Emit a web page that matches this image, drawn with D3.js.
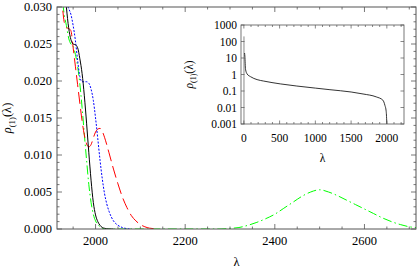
<!DOCTYPE html>
<html>
<head>
<meta charset="utf-8">
<script src="https://cdn.jsdelivr.net/npm/d3@7"></script>
<style>
  body { margin: 0; background: #fff; }
  svg text { font-family: "Liberation Serif", "DejaVu Serif", serif; fill: #000; }
</style>
</head>
<body>
<svg id="chart" width="417" height="270" font-family="Liberation Serif, DejaVu Serif, serif"></svg>
<script>

// main panel data
var blackLambda = [1933, 1935, 1940, 1945, 1950, 1955, 1960, 1965, 1970, 1975, 1980, 1985, 1990, 1995, 2000, 2005, 2010, 2015, 2020, 2025, 2030, 2040];
var blackRho    = [0.0315, 0.0300, 0.0272, 0.0256, 0.0250, 0.0249, 0.0245, 0.0230, 0.0210, 0.0180, 0.0143, 0.0103, 0.0066, 0.0036, 0.0019, 0.0010, 0.0005, 0.0002, 0.0001, 0.00003, 0, 0];

var redLambda = [1927, 1930, 1935, 1940, 1945, 1950, 1955, 1960, 1965, 1970, 1975, 1980, 1985, 1990, 1995, 2000, 2005, 2010, 2015, 2020, 2030, 2040, 2050, 2060, 2070, 2080, 2090, 2100, 2110, 2120, 2130, 2140];
var redRho    = [0.0295, 0.0280, 0.0272, 0.0271, 0.0268, 0.0245, 0.0220, 0.0195, 0.0170, 0.0146, 0.0127, 0.0115, 0.0111, 0.0114, 0.0123, 0.0131, 0.0135, 0.0136, 0.0132, 0.0124, 0.0103, 0.0081, 0.0061, 0.0043, 0.0029, 0.0018, 0.0011, 0.0006, 0.0003, 0.00012, 0.00004, 0];

var blueLambda = [1935, 1940, 1945, 1950, 1955, 1960, 1965, 1970, 1975, 1980, 1985, 1990, 1995, 2000, 2005, 2010, 2015, 2020, 2025, 2030, 2040, 2050, 2060, 2070, 2080];
var blueRho    = [0.0305, 0.0298, 0.0290, 0.0275, 0.0255, 0.0228, 0.0206, 0.0199, 0.0199, 0.0199, 0.0197, 0.0189, 0.0174, 0.0150, 0.0122, 0.0093, 0.0068, 0.0048, 0.0034, 0.0024, 0.0011, 0.0005, 0.0002, 0.00005, 0];

var greenLambda = [1927, 1930, 1935, 1940, 1945, 1950, 1955, 1960, 1965, 1970, 1975, 1980, 1985, 1990, 1995, 2000, 2005, 2010, 2015, 2025, 2100, 2200, 2280,
                   2300, 2320, 2340, 2360, 2380, 2400, 2420, 2440, 2460, 2480, 2500, 2520, 2540, 2560, 2580, 2600, 2620, 2640, 2660, 2680, 2700, 2715];
var greenRho    = [0.0305, 0.0290, 0.0275, 0.0258, 0.0250, 0.0247, 0.0236, 0.0220, 0.0196, 0.0164, 0.0128, 0.0093, 0.0060, 0.0036, 0.0020, 0.0011, 0.0006, 0.0003, 0.0001, 0, 0, 0, 0,
                   0.00008, 0.0002, 0.0005, 0.0009, 0.0014, 0.0020, 0.0028, 0.0036, 0.0044, 0.0050, 0.0053, 0.0050, 0.0045, 0.0039, 0.0033, 0.0027, 0.0021, 0.0015, 0.0010, 0.0006, 0.0003, 0.0002];

var mainXTicks = [2000, 2200, 2400, 2600];
var mainYTicks = [0, 0.005, 0.010, 0.015, 0.020, 0.025, 0.030];

// inset data (log scale)
var spikeLambda = [0, 0, 3, 3];
var spikeRho    = [0.001, 200, 200, 0.001];
var insetLambda = [10, 14, 23, 46, 93, 185, 278, 509, 741, 1000, 1204, 1500, 1667, 1852, 1944, 1972, 1991, 2000];
var insetRho    = [20, 13, 2.1, 1.07, 0.74, 0.49, 0.40, 0.27, 0.20, 0.15, 0.12, 0.087, 0.066, 0.044, 0.028, 0.014, 0.0057, 0.001];

var insetXTicks = [0, 500, 1000, 1500, 2000];
var insetYTicks = [1000, 100, 10, 1, 0.1, 0.01, 0.001];
var insetYLabels = ["1000", "100", "10", "1", "0.1", "0.01", "0.001"];

/************************************************************************************************************/

var svg = d3.select("#chart");
var frameColor = "#555";

function rhoLabel(sel, size){
  sel.append("tspan").style("font-style", "italic").text("ρ");
  sel.append("tspan").attr("font-size", size * 0.7).attr("dy", size * 0.3).text("(1)");
  sel.append("tspan").attr("dy", -size * 0.3).text("(λ)");
}

function drawTicks(g, scale, values, len, side, w, h){
  values.forEach(function(v){
    var p = scale(v);
    if(side === "bottom") g.append("line").attr("x1", p).attr("x2", p).attr("y1", h).attr("y2", h - len);
    if(side === "top") g.append("line").attr("x1", p).attr("x2", p).attr("y1", 0).attr("y2", len);
    if(side === "left") g.append("line").attr("y1", p).attr("y2", p).attr("x1", 0).attr("x2", len);
    if(side === "right") g.append("line").attr("y1", p).attr("y2", p).attr("x1", w).attr("x2", w - len);
  });
}

/************************************************************************************************************/
// main panel

svg.margin = {left: 57, top: 7, right: 1, bottom: 41};
svg.width = 417 - svg.margin.left - svg.margin.right;
svg.height = 270 - svg.margin.top - svg.margin.bottom;

svg.x = d3.scaleLinear().domain([1914, 2715]).range([0, svg.width]);
svg.y = d3.scaleLinear().domain([0, 0.03]).range([svg.height, 0]);

var main = svg.append("g").attr("transform", "translate(" + [svg.margin.left, svg.margin.top] + ")");

main.append("clipPath").attr("id", "clipMain")
  .append("rect").attr("width", svg.width).attr("height", svg.height);

var chart = main.append("g").attr("clip-path", "url(#clipMain)");

function mainLine(xs, ys){
  return d3.line().curve(d3.curveMonotoneX)
    .x(function(d, i){ return svg.x(xs[i]); })
    .y(function(d){ return svg.y(d); })(ys);
}

chart.append("path").attr("d", mainLine(greenLambda, greenRho))
  .attr("fill", "none").attr("stroke", "#00ff00").attr("stroke-width", 1).attr("stroke-dasharray", "9,3,1.5,3");
chart.append("path").attr("d", mainLine(redLambda, redRho))
  .attr("fill", "none").attr("stroke", "#ff0000").attr("stroke-width", 1).attr("stroke-dasharray", "12,5");
chart.append("path").attr("d", mainLine(blueLambda, blueRho))
  .attr("fill", "none").attr("stroke", "#0000ff").attr("stroke-width", 1).attr("stroke-dasharray", "2,1.5");
chart.append("path").attr("d", mainLine(blackLambda, blackRho))
  .attr("fill", "none").attr("stroke", "#000").attr("stroke-width", 1);

var ticks = main.append("g").attr("stroke", frameColor).attr("stroke-width", 0.8);
var xMinor = d3.range(1950, 2715, 50).filter(function(v){ return v % 200 !== 0; });
var yMinor = d3.range(1, 30).map(function(v){ return v / 1000; }).filter(function(v, i){ return (i + 1) % 5 !== 0; });
["bottom", "top"].forEach(function(s){
  drawTicks(ticks, svg.x, mainXTicks, 5, s, svg.width, svg.height);
  drawTicks(ticks, svg.x, xMinor, 2.5, s, svg.width, svg.height);
});
["left", "right"].forEach(function(s){
  drawTicks(ticks, svg.y, mainYTicks, 5, s, svg.width, svg.height);
  drawTicks(ticks, svg.y, yMinor, 2.5, s, svg.width, svg.height);
});

main.append("rect").attr("width", svg.width).attr("height", svg.height)
  .attr("fill", "none").attr("stroke", frameColor).attr("stroke-width", 1);

main.selectAll(".xlab").data(mainXTicks).enter().append("text")
  .attr("x", function(d){ return svg.x(d); }).attr("y", svg.height + 16)
  .attr("text-anchor", "middle").attr("font-size", 12.5).text(function(d){ return d; });

main.selectAll(".ylab").data(mainYTicks).enter().append("text")
  .attr("x", -5).attr("y", function(d){ return svg.y(d); }).attr("dy", "0.35em")
  .attr("text-anchor", "end").attr("font-size", 12.5).text(d3.format(".3f"));

main.append("text").attr("x", svg.width / 2).attr("y", svg.height + 37)
  .attr("text-anchor", "middle").attr("font-size", 12.5).text("λ");

rhoLabel(main.append("text").attr("font-size", 12.5).attr("text-anchor", "middle")
  .attr("transform", "translate(-46," + (svg.height / 2) + ") rotate(-90)"), 12.5);

/************************************************************************************************************/
// inset

var inset = {left: 241, top: 25, width: 163, height: 99};
inset.x = d3.scaleLinear().domain([-40, 2240]).range([0, inset.width]);
inset.y = d3.scaleLog().domain([0.001, 1000]).range([inset.height, 0]);

var ins = svg.append("g").attr("transform", "translate(" + [inset.left, inset.top] + ")");
ins.append("rect").attr("width", inset.width).attr("height", inset.height).attr("fill", "#fff");

ins.append("clipPath").attr("id", "clipInset")
  .append("rect").attr("width", inset.width).attr("height", inset.height);
var insChart = ins.append("g").attr("clip-path", "url(#clipInset)");

function insetLine(xs, ys){
  return d3.line()
    .x(function(d, i){ return inset.x(xs[i]); })
    .y(function(d){ return inset.y(d); })(ys);
}

insChart.append("path").attr("d", insetLine(spikeLambda, spikeRho))
  .attr("fill", "none").attr("stroke", "#999").attr("stroke-width", 0.7);
insChart.append("path").attr("d", d3.line().curve(d3.curveMonotoneX)
    .x(function(d, i){ return inset.x(insetLambda[i]); })
    .y(function(d){ return inset.y(d); })(insetRho))
  .attr("fill", "none").attr("stroke", "#000").attr("stroke-width", 0.8);

var insTicks = ins.append("g").attr("stroke", frameColor).attr("stroke-width", 0.7);
var insXMinor = d3.range(100, 2240, 100).filter(function(v){ return v % 500 !== 0; });
["bottom", "top"].forEach(function(s){
  drawTicks(insTicks, inset.x, insetXTicks, 3.5, s, inset.width, inset.height);
  drawTicks(insTicks, inset.x, insXMinor, 2, s, inset.width, inset.height);
});
["left", "right"].forEach(function(s){
  drawTicks(insTicks, inset.y, insetYTicks, 3.5, s, inset.width, inset.height);
});

ins.append("rect").attr("width", inset.width).attr("height", inset.height)
  .attr("fill", "none").attr("stroke", frameColor).attr("stroke-width", 0.8);

ins.selectAll(".xlab").data(insetXTicks).enter().append("text")
  .attr("x", function(d){ return inset.x(d); }).attr("y", inset.height + 18)
  .attr("text-anchor", "middle").attr("font-size", 11.5).text(function(d){ return d; });

ins.selectAll(".ylab").data(insetYTicks).enter().append("text")
  .attr("x", -4).attr("y", function(d){ return inset.y(d); }).attr("dy", "0.35em")
  .attr("text-anchor", "end").attr("font-size", 11.5).text(function(d, i){ return insetYLabels[i]; });

ins.append("text").attr("x", inset.width / 2).attr("y", inset.height + 38)
  .attr("text-anchor", "middle").attr("font-size", 11.5).text("λ");

rhoLabel(ins.append("text").attr("font-size", 11.5).attr("text-anchor", "middle")
  .attr("transform", "translate(-48," + (inset.height / 2) + ") rotate(-90)"), 11.5);

</script>
</body>
</html>
